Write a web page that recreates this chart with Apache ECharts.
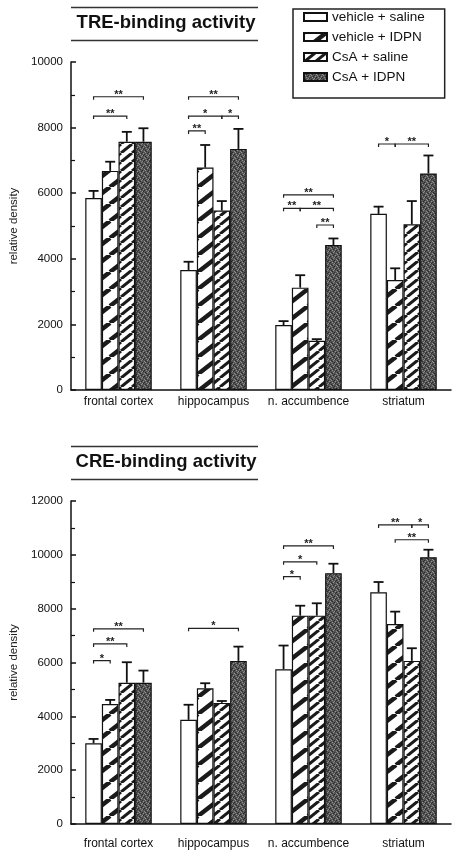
<!DOCTYPE html>
<html>
<head>
<meta charset="utf-8">
<script src="https://cdn.jsdelivr.net/npm/echarts@6/dist/echarts.min.js"></script>
<style>
	html, body { margin: 0; padding: 0; background: #fff; }
	#chart { width: 457px; height: 855px; }
</style>
</head>
<body>
<div id="chart"></div>
<script>
// regions on the x axis
var regions = ['frontal cortex', 'hippocampus', 'n. accumbence', 'striatum'];
var groups = ['vehicle + saline', 'vehicle + IDPN', 'CsA + saline', 'CsA + IDPN'];

// TRE-binding activity, means and upper error (relative density)
var treVehSal = [5850, 3660, 1980, 5370];
var treVehIdpn = [6680, 6780, 3120, 3350];
var treCsaSal = [7570, 5470, 1500, 5050];
var treCsaIdpn = [7570, 7350, 4420, 6600];
var treErrVehSal = [220, 250, 120, 220];
var treErrVehIdpn = [280, 690, 380, 360];
var treErrCsaSal = [300, 290, 50, 710];
var treErrCsaIdpn = [410, 610, 200, 550];

// CRE-binding activity
var creVehSal = [3000, 3870, 5750, 8610];
var creVehIdpn = [4460, 5040, 7740, 7430];
var creCsaSal = [5250, 4500, 7740, 6060];
var creCsaIdpn = [5250, 6060, 9320, 9910];
var creErrVehSal = [160, 560, 880, 380];
var creErrVehIdpn = [150, 190, 370, 460];
var creErrCsaSal = [760, 70, 460, 470];
var creErrCsaIdpn = [450, 530, 350, 280];

// significance brackets: [region, from bar, to bar, height, stars]
var treSig = [
	[0, 0, 3, 8940, '**'], [0, 0, 2, 8350, '**'],
	[1, 0, 3, 8940, '**'], [1, 0, 2, 8350, '*'], [1, 2, 3, 8350, '*'], [1, 0, 1, 7900, '**'],
	[2, 0, 3, 5950, '**'], [2, 0, 1, 5540, '**'], [2, 1, 3, 5540, '**'], [2, 2, 3, 5030, '**'],
	[3, 0, 1, 7500, '*'], [3, 1, 3, 7500, '**']
];
var creSig = [
	[0, 0, 3, 7250, '**'], [0, 0, 2, 6690, '**'], [0, 0, 1, 6070, '*'],
	[1, 0, 3, 7270, '*'],
	[2, 0, 3, 10330, '**'], [2, 0, 2, 9740, '*'], [2, 0, 1, 9190, '*'],
	[3, 0, 2, 11110, '**'], [3, 2, 3, 11110, '*'], [3, 1, 3, 10560, '**']
];

var yTicksTre = { min: 0, max: 10000, interval: 2000 };
var yTicksCre = { min: 0, max: 12000, interval: 2000 };

var FONT = 'Liberation Sans, Arial, sans-serif';
var BAR_FRAC = 0.175;

function hatch(w, h, lw) {
	var c = document.createElement('canvas');
	c.width = w; c.height = h;
	var ctx = c.getContext('2d');
	ctx.fillStyle = '#fff';
	ctx.fillRect(0, 0, w, h);
	ctx.strokeStyle = '#1a1a1a';
	ctx.lineWidth = lw;
	[-w, 0, w].forEach(function (dx) {
		ctx.beginPath();
		ctx.moveTo(dx, h);
		ctx.lineTo(dx + w, 0);
		ctx.stroke();
	});
	return c;
}

function stipple() {
	var c = document.createElement('canvas');
	c.width = 6; c.height = 6;
	var ctx = c.getContext('2d');
	ctx.fillStyle = '#555';
	ctx.fillRect(0, 0, 6, 6);
	ctx.fillStyle = '#909090';
	[[0, 1], [3, 0], [5, 3], [2, 4], [4, 5], [1, 2]].forEach(function (p) { ctx.fillRect(p[0], p[1], 1, 1); });
	ctx.fillStyle = '#2a2a2a';
	[[1, 0], [4, 2], [0, 4], [3, 3], [5, 5], [2, 1]].forEach(function (p) { ctx.fillRect(p[0], p[1], 1, 1); });
	return c;
}

var fills = [
	'#ffffff',
	{ image: hatch(22, 17, 4.5), repeat: 'repeat' },
	{ image: hatch(11, 9, 3), repeat: 'repeat' },
	{ image: stipple(), repeat: 'repeat' }
];

function barX(api, cat, idx) {
	var band = api.size([1, 0])[0];
	return api.coord([cat, 0])[0] + (idx - 1.5) * band * BAR_FRAC;
}

function errRender(idx) {
	return function (params, api) {
		var cat = api.value(0);
		var m = api.value(1);
		var e = api.value(2);
		var x = barX(api, cat, idx);
		var y0 = api.coord([cat, m])[1];
		var y1 = api.coord([cat, m + e])[1];
		var st = { stroke: '#111', lineWidth: 1.8 };
		return {
			type: 'group',
			children: [
				{ type: 'line', shape: { x1: x, y1: y0, x2: x, y2: y1 }, style: st },
				{ type: 'line', shape: { x1: x - 5, y1: y1, x2: x + 5, y2: y1 }, style: st }
			]
		};
	};
}

function sigRender(params, api) {
	var cat = api.value(0);
	var x1 = barX(api, cat, api.value(1));
	var x2 = barX(api, cat, api.value(2));
	var y = api.coord([cat, api.value(3)])[1];
	var st = { stroke: '#222', lineWidth: 1.2, fill: null };
	return {
		type: 'group',
		children: [
			{ type: 'polyline', shape: { points: [[x1, y + 3], [x1, y], [x2, y], [x2, y + 3]] }, style: st },
			{ type: 'text', style: { x: (x1 + x2) / 2, y: y - 2, text: api.value(4), fill: '#222', font: 'bold 11px ' + FONT, textAlign: 'center', textVerticalAlign: 'middle' } }
		]
	};
}

function pairs(vals, errs) {
	return vals.map(function (v, i) { return [i, v, errs[i]]; });
}

function buildSeries(axis, values, errs, sig) {
	var out = [];
	values.forEach(function (vals, i) {
		out.push({
			name: groups[i],
			type: 'bar',
			xAxisIndex: axis, yAxisIndex: axis,
			data: vals,
			barGap: 0,
			barCategoryGap: '30%',
			itemStyle: { color: fills[i], borderColor: '#111', borderWidth: 1.2 },
			silent: true
		});
	});
	values.forEach(function (vals, i) {
		out.push({
			type: 'custom',
			xAxisIndex: axis, yAxisIndex: axis,
			renderItem: errRender(i),
			data: pairs(vals, errs[i]),
			z: 3
		});
	});
	out.push({
		type: 'custom',
		xAxisIndex: axis, yAxisIndex: axis,
		renderItem: sigRender,
		data: sig,
		z: 4
	});
	return out;
}

function yAxisFor(gridIdx, ticks) {
	return {
		gridIndex: gridIdx,
		type: 'value',
		min: ticks.min, max: ticks.max, interval: ticks.interval,
		name: 'relative density',
		nameLocation: 'middle',
		nameGap: 48,
		nameTextStyle: { fontFamily: FONT, fontSize: 11.5, color: '#222' },
		axisLine: { show: true, lineStyle: { color: '#111', width: 1.5 } },
		axisTick: { show: true, inside: true, length: 5, lineStyle: { color: '#111', width: 1.5 } },
		minorTick: { show: true, splitNumber: 2, length: 4, lineStyle: { color: '#111', width: 1.2 } },
		splitLine: { show: false },
		axisLabel: {
			fontFamily: FONT, fontSize: 11.5, color: '#111', margin: 8,
			formatter: function (v) { return String(v); }
		}
	};
}

function xAxisFor(gridIdx, gap) {
	return {
		gridIndex: gridIdx,
		type: 'category',
		data: regions,
		axisLine: { lineStyle: { color: '#111', width: 1.5 } },
		axisTick: { show: false },
		axisLabel: { interval: 0, fontFamily: FONT, fontSize: 12, color: '#111', margin: gap }
	};
}

function titleBlock(text, yMid) {
	return [
		{ type: 'line', shape: { x1: 71, y1: yMid - 15.5, x2: 258, y2: yMid - 15.5 }, style: { stroke: '#333', lineWidth: 1.5 } },
		{ type: 'line', shape: { x1: 71, y1: yMid + 17.5, x2: 258, y2: yMid + 17.5 }, style: { stroke: '#333', lineWidth: 1.5 } },
		{ type: 'text', style: { x: 166, y: yMid, text: text, font: 'bold 18.5px ' + FONT, fill: '#111', textAlign: 'center', textVerticalAlign: 'middle' } }
	];
}

var myChart = echarts.init(document.getElementById('chart'));
var option = {
	animation: false,
	backgroundColor: '#fff',
	legend: {
		data: groups,
		orient: 'vertical',
		left: 293, top: 9,
		padding: [1, 20, 14, 10],
		icon: 'rect',
		itemWidth: 23, itemHeight: 8,
		itemGap: 6, itemTextGap: 10,
		borderColor: '#222', borderWidth: 1.5,
		textStyle: { fontFamily: FONT, fontSize: 13.5, color: '#111', lineHeight: 14 }
	},
	grid: [
		{ left: 71, right: 6, top: 62, height: 328 },
		{ left: 71, right: 6, top: 501, height: 323 }
	],
	xAxis: [xAxisFor(0, 6), xAxisFor(1, 14)],
	yAxis: [yAxisFor(0, yTicksTre), yAxisFor(1, yTicksCre)],
	graphic: titleBlock('TRE-binding activity', 23).concat(titleBlock('CRE-binding activity', 462)),
	series: buildSeries(0,
		[treVehSal, treVehIdpn, treCsaSal, treCsaIdpn],
		[treErrVehSal, treErrVehIdpn, treErrCsaSal, treErrCsaIdpn], treSig)
		.concat(buildSeries(1,
		[creVehSal, creVehIdpn, creCsaSal, creCsaIdpn],
		[creErrVehSal, creErrVehIdpn, creErrCsaSal, creErrCsaIdpn], creSig))
};
myChart.setOption(option);
</script>
</body>
</html>
